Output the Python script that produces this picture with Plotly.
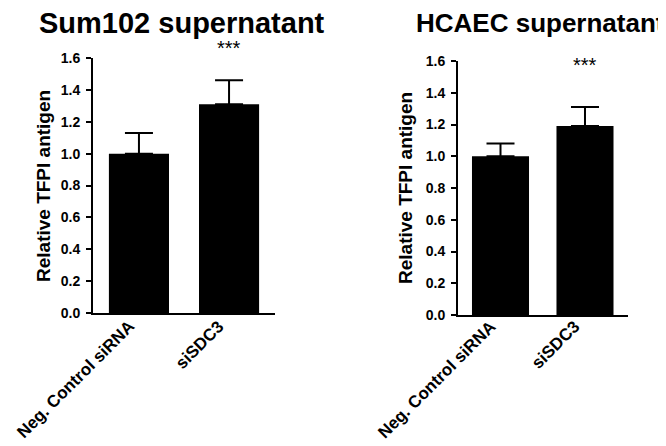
import plotly.graph_objects as go

categories = ["Neg. Control siRNA", "siSDC3"]
sum102_mean = [1.00, 1.31]
sum102_err = [0.13, 0.15]
hcaec_mean = [1.00, 1.19]
hcaec_err = [0.08, 0.12]
significance = ["", "***"]
panel_titles = ["Sum102 supernatant", "HCAEC supernatant"]
y_title = "Relative TFPI antigen"
y_ticks = [0.0, 0.2, 0.4, 0.6, 0.8, 1.0, 1.2, 1.4, 1.6]

W, H = 666, 446
FONT = "Liberation Sans, Arial, sans-serif"

fig = go.Figure()

panels = [
    dict(mean=sum102_mean, err=sum102_err, xa="x", ya="y",
         xdom=[85 / W, 267 / W], ydom=[(H - 305) / H, (H - 50) / H],
         xrange=[-0.51, 1.51], width=0.667, title_x=174, title_size=29,
         ytitle_x=35, ytitle_y=178, star_shift=10),
    dict(mean=hcaec_mean, err=hcaec_err, xa="x2", ya="y2",
         xdom=[450 / W, 620 / W], ydom=[(H - 307) / H, (H - 53) / H],
         xrange=[-0.503, 1.509], width=0.675, title_x=532, title_size=26,
         ytitle_x=397, ytitle_y=180, star_shift=-4),
]

annotations = []
for i, p in enumerate(panels):
    fig.add_trace(go.Bar(
        x=categories, y=p["mean"], xaxis=p["xa"], yaxis=p["ya"],
        width=p["width"],
        marker=dict(color="black", line=dict(width=0)),
        error_y=dict(type="data", array=p["err"], arrayminus=[0] * len(p["err"]),
                     symmetric=False, color="black", thickness=2, width=14),
        showlegend=False,
    ))
    suffix = "" if i == 0 else "2"
    fig.update_layout(**{
        "xaxis" + suffix: dict(
            domain=p["xdom"], range=p["xrange"], anchor="y" + suffix,
            showline=True, linecolor="black", linewidth=2, ticks="",
            showgrid=False, zeroline=False, showticklabels=False,
            automargin=False, fixedrange=True,
        ),
        "yaxis" + suffix: dict(
            domain=p["ydom"], range=[0, 1.6], anchor="x" + suffix,
            showline=True, linecolor="black", linewidth=2,
            ticks="outside", ticklen=5, tickwidth=2, tickcolor="black",
            tickvals=y_ticks, tickformat=".1f", ticklabelstandoff=3,
            showgrid=False, zeroline=False,
            tickfont=dict(family=FONT, size=14, color="black", weight="bold"),
            automargin=False, fixedrange=True,
        ),
    })
    # panel title
    annotations.append(dict(
        text="<b>%s</b>" % panel_titles[i], xref="paper", yref="paper",
        x=p["title_x"] / W, y=(H - 15) / H, xanchor="center", yanchor="middle",
        showarrow=False, font=dict(family=FONT, size=p["title_size"], color="black"),
    ))
    # y-axis title
    annotations.append(dict(
        text="<b>%s</b>" % y_title, xref="paper", yref="paper",
        x=p["ytitle_x"] / W, y=(H - p["ytitle_y"]) / H, xanchor="center", yanchor="middle",
        textangle=-90, showarrow=False, font=dict(family=FONT, size=19, color="black"),
    ))
    # rotated category labels
    for c in categories:
        annotations.append(dict(
            text="<b>%s</b>" % c, xref=p["xa"], yref="paper",
            x=c, y=(H - 306) / H, xshift=2, xanchor="right", yanchor="top",
            textangle=-45, showarrow=False,
            font=dict(family=FONT, size=17, color="black"),
        ))
    # significance stars
    for c, s in zip(categories, significance):
        if s:
            annotations.append(dict(
                text=s, xref=p["xa"], yref=p["ya"], x=c, y=1.6,
                yshift=p["star_shift"],
                xanchor="center", yanchor="middle", showarrow=False,
                font=dict(family=FONT, size=20, color="black"),
            ))

fig.update_layout(
    width=W, height=H,
    margin=dict(l=0, r=0, t=0, b=0),
    paper_bgcolor="white", plot_bgcolor="white",
    annotations=annotations,
    bargap=0.3,
)

fig.write_html("out.html")
